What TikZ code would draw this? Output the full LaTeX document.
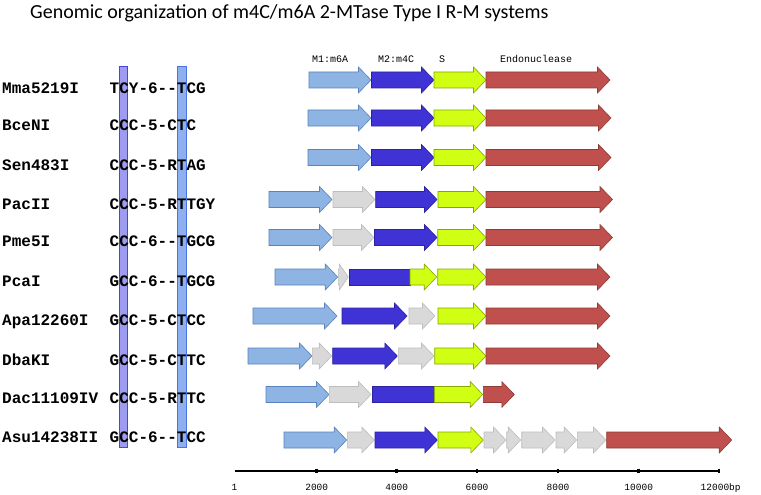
\documentclass[tikz,border=0pt]{standalone}
\usepackage{fontspec}
\setmainfont{Carlito}
\newfontfamily\monofont{Liberation Mono}
\definecolor{lbfill}{HTML}{8EB4E3}\definecolor{lbdraw}{HTML}{5A82BE}
\definecolor{dbfill}{HTML}{3F33D6}\definecolor{dbdraw}{HTML}{2B22A0}
\definecolor{ygfill}{HTML}{D0FF14}\definecolor{ygdraw}{HTML}{86A800}
\definecolor{rdfill}{HTML}{C0504D}\definecolor{rddraw}{HTML}{8E3A37}
\definecolor{gyfill}{HTML}{D9D9D9}\definecolor{gydraw}{HTML}{BDBDBD}
\definecolor{barone}{HTML}{9E9CF0}\definecolor{baronedraw}{HTML}{4A44E0}
\definecolor{bartwo}{HTML}{8EB0F0}\definecolor{bartwodraw}{HTML}{4A74E0}
\tikzset{
  lb/.style={fill=lbfill,draw=lbdraw},
  db/.style={fill=dbfill,draw=dbdraw},
  yg/.style={fill=ygfill,draw=ygdraw},
  rd/.style={fill=rdfill,draw=rddraw},
  gy/.style={fill=gyfill,draw=gydraw},
  genename/.style={anchor=base west,inner sep=0pt,font=\monofont\bfseries\fontsize{16}{16}\selectfont},
  headlabel/.style={anchor=base west,inner sep=0pt,font=\monofont\fontsize{10}{10}\selectfont},
  ticklabel/.style={anchor=base,inner sep=0pt,font=\monofont\fontsize{9.5}{9.5}\selectfont},
}
% #1 style, #2 x1, #3 x2, #4 y
\newcommand\genarr[4]{%
  \pgfmathsetmacro\hlen{min(12.5,#3-#2-1)}%
  \path[#1,line width=0.6pt] (#2,#4-8) -- ({#3-\hlen},#4-8) -- ({#3-\hlen},#4-13) -- (#3,#4) -- ({#3-\hlen},#4+13) -- ({#3-\hlen},#4+8) -- (#2,#4+8) -- cycle;}
\newcommand\genbox[4]{%
  \path[#1,line width=0.6pt] (#2,#4-8) rectangle (#3,#4+8);}
\begin{document}
\begin{tikzpicture}[x=1pt,y=-1pt]
\useasboundingbox[fill=white] (0,0) rectangle (761,495);
% title
\node[anchor=base west,inner sep=0pt,font=\fontsize{20}{20}\selectfont] (title) at (30,18.3) {Genomic organization of m4C/m6A 2-MTase Type I R-M systems};
% bars
\path[fill=barone,draw=baronedraw,line width=0.8pt] (119,66.5) rectangle (127.4,447.3);
\path[fill=bartwo,draw=bartwodraw,line width=0.8pt] (177.3,66.5) rectangle (186.5,447.3);
% names and sequences
\foreach \nm/\sq/\yb [count=\i] in {Mma5219I/TCY-6--TCG/93.3, BceNI/CCC-5-CTC/131, Sen483I/CCC-5-RTAG/170, PacII/CCC-5-RTTGY/209, Pme5I/CCC-6--TGCG/246.7, PcaI/GCC-6--TGCG/286, Apa12260I/GCC-5-CTCC/325, DbaKI/GCC-5-CTTC/365, Dac11109IV/CCC-5-RTTC/403.3, Asu14238II/GCC-6--TCC/442.7}{
  \node[genename] (name\i) at (2,\yb) {\nm};
  \node[genename] (seq\i) at (109.5,\yb) {\sq};
}
% header labels
\node[headlabel] (hm1) at (312,63) {M1:m6A};
\node[headlabel] (hm2) at (378,63) {M2:m4C};
\node[headlabel] (hs) at (439,63) {S};
\node[headlabel] (hen) at (500,63) {Endonuclease};
% row 1
\genarr{lb}{309}{371}{80}\genarr{db}{371.5}{434}{80}\genarr{yg}{434}{486}{80}\genarr{rd}{486}{610}{80}
% row 2
\genarr{lb}{308}{371}{118}\genarr{db}{371.5}{434}{118}\genarr{yg}{434}{486}{118}\genarr{rd}{486}{611}{118}
% row 3
\genarr{lb}{308}{371}{157.5}\genarr{db}{371.5}{434}{157.5}\genarr{yg}{434}{486}{157.5}\genarr{rd}{486}{611}{157.5}
% row 4
\genarr{lb}{269}{332}{199.5}\genarr{gy}{333}{375}{199.5}\genarr{db}{375.7}{437}{199.5}\genarr{yg}{438}{486}{199.5}\genarr{rd}{486}{612.5}{199.5}
% row 5
\genarr{lb}{269}{332}{237.5}\genarr{gy}{333}{374}{237.5}\genarr{db}{374.5}{437}{237.5}\genarr{yg}{437.7}{486}{237.5}\genarr{rd}{486}{612.5}{237.5}
% row 6
\genarr{lb}{275}{337.7}{277}\genarr{gy}{338.3}{348.3}{277}\genbox{db}{349}{410}{277}\genarr{yg}{410}{436.7}{277}\genarr{yg}{437.7}{486}{277}\genarr{rd}{486}{610}{277}
% row 7
\genarr{lb}{253}{337}{316}\genarr{db}{342}{407}{316}\genarr{gy}{409}{435}{316}\genarr{yg}{438}{486}{316}\genarr{rd}{486}{610}{316}
% row 8
\genarr{lb}{248}{312}{356}\genarr{gy}{312.3}{331.7}{356}\genarr{db}{332.7}{397.3}{356}\genarr{gy}{398.3}{434}{356}\genarr{yg}{434.7}{486}{356}\genarr{rd}{486}{610}{356}
% row 9
\genarr{lb}{266}{329}{394.5}\genarr{gy}{329.3}{371}{394.5}\genbox{db}{372.7}{434.3}{394.5}\genarr{yg}{434.3}{482.7}{394.5}\genarr{rd}{483.3}{514.3}{394.5}
% row 10
\genarr{lb}{284}{346.7}{440}\genarr{gy}{347.3}{374.3}{440}\genarr{db}{375}{437.3}{440}\genarr{yg}{438}{483.3}{440}\genarr{gy}{484}{506}{440}\genarr{gy}{506.7}{520.7}{440}\genarr{gy}{521.7}{555}{440}\genarr{gy}{556}{576.7}{440}\genarr{gy}{577.3}{606}{440}\genarr{rd}{606.7}{731.7}{440}
% axis
\coordinate (axl) at (235,470.7);
\coordinate (axr) at (720,470.7);
\draw[line width=2pt] (axl) -- (axr);
\foreach \xv in {316.7,396.7,477,558,638.7,719}{
  \draw[line width=2.5pt] (\xv,468.7) -- (\xv,472.7);
}
\node[ticklabel] (t1) at (234.5,490) {1};
\foreach \xv/\lab [count=\j] in {316.7/2000,396.7/4000,477/6000,558/8000,638.7/10000}{
  \node[ticklabel] (tk\j) at (\xv,490) {\lab};
}
\node[ticklabel,anchor=base west] (tk6) at (700.5,490) {12000bp};
\end{tikzpicture}
\end{document}
